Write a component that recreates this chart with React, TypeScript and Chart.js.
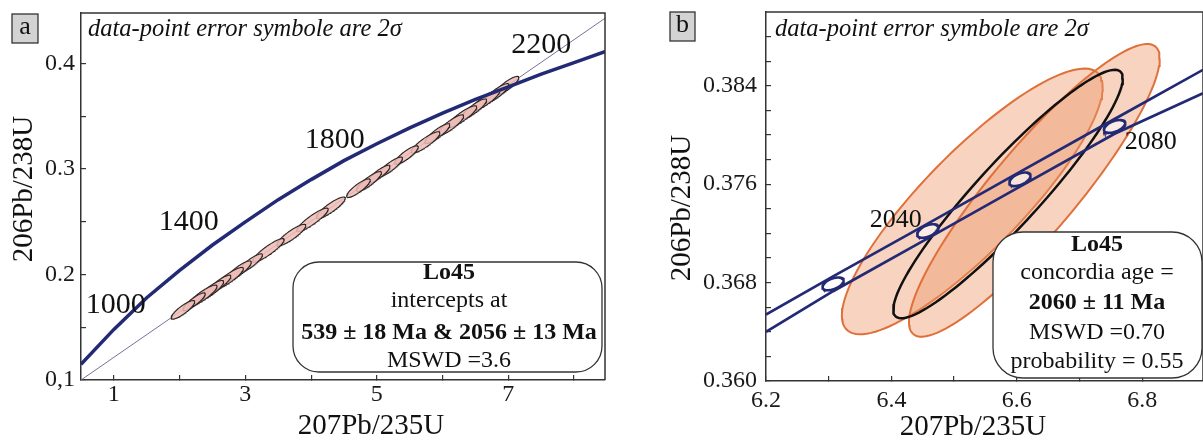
import React, { useEffect, useRef } from 'react';
import { Chart, registerables } from 'chart.js';
Chart.register(...registerables);

// ---------------- Panel a data ----------------
const aConcordiaX = [0.5, 1.0, 1.5, 2.0, 2.5, 3.0, 3.5, 4.0, 4.5, 5.0, 5.5, 6.0, 6.5, 7.0, 7.5, 8.0, 8.5];
const aConcordiaY = [0.115, 0.148, 0.178, 0.204, 0.228, 0.25, 0.271, 0.29, 0.308, 0.324, 0.339, 0.353, 0.366, 0.378, 0.39, 0.401, 0.412];
const aDiscordiaX = [0.5, 8.47];
const aDiscordiaY = [0.1, 0.443];
const aEllX = [2.05, 2.22, 2.35, 2.48, 2.6, 2.75, 2.9, 3.08, 3.35, 3.7, 4.02, 4.3, 4.72, 4.88, 5.03, 5.2, 5.45, 5.74, 5.92, 6.12, 6.3, 6.48, 6.65, 6.82, 6.98];
const aEllY = [0.1665, 0.1742, 0.1798, 0.185, 0.1906, 0.1965, 0.2035, 0.2108, 0.2229, 0.2374, 0.2518, 0.2633, 0.2819, 0.2882, 0.2952, 0.302, 0.3133, 0.3252, 0.3336, 0.3416, 0.3498, 0.3571, 0.3649, 0.3717, 0.3791];
const aEllSX = [0.18, 0.17, 0.22, 0.19, 0.18, 0.22, 0.19, 0.18, 0.24, 0.22, 0.24, 0.22, 0.18, 0.19, 0.17, 0.19, 0.18, 0.22, 0.19, 0.2, 0.22, 0.19, 0.22, 0.19, 0.18];
const aEllSY = [0.0088, 0.0084, 0.0102, 0.0094, 0.0088, 0.0102, 0.0094, 0.0088, 0.0112, 0.0102, 0.0112, 0.0102, 0.0088, 0.0094, 0.0084, 0.0094, 0.0088, 0.0102, 0.0094, 0.0098, 0.0102, 0.0094, 0.0102, 0.0094, 0.0088];
const aEllRho = [0.86, 0.87, 0.88, 0.86, 0.87, 0.88, 0.86, 0.87, 0.9, 0.88, 0.9, 0.88, 0.86, 0.87, 0.86, 0.87, 0.86, 0.88, 0.87, 0.87, 0.88, 0.87, 0.88, 0.87, 0.86];
const aAgeLabels = ['1000', '1400', '1800', '2200'];
const aAgeLabelX = [1.03, 2.14, 4.36, 7.5];
const aAgeLabelY = [0.171, 0.25, 0.327, 0.4175];
const aXTicks = [1, 2, 3, 4, 5, 6, 7, 8];
const aXTickLabels = ['1', '', '3', '', '5', '', '7', ''];
const aYTicks = [0.1, 0.15, 0.2, 0.25, 0.3, 0.35, 0.4];
const aYTickLabels = ['0,1', '', '0.2', '', '0.3', '', '0.4'];
const aBoxLines = ['Lo45', 'intercepts at', '539 ± 18 Ma & 2056 ± 13 Ma', 'MSWD =3.6'];
const aBoxBold = [true, false, true, false];

// ---------------- Panel b data ----------------
const bUpperX = [6.2, 6.307, 6.458, 6.605, 6.756, 6.897];
const bUpperY = [0.3654, 0.3685, 0.3728, 0.377, 0.3813, 0.3853];
const bLowerX = [6.2, 6.307, 6.458, 6.605, 6.756, 6.897];
const bLowerY = [0.364, 0.3673, 0.3716, 0.3758, 0.3801, 0.3834];
const bMarkerX = [6.307, 6.458, 6.605, 6.756];
const bMarkerY = [0.3679, 0.3722, 0.3764, 0.3807];
const bMarkerSX = [0.017, 0.017, 0.017, 0.017];
const bMarkerSY = [0.00052, 0.00055, 0.00055, 0.00052];
const bMarkerRho = [0.5, 0.5, 0.5, 0.5];
const bEllX = [6.529, 6.628];
const bEllY = [0.3746, 0.3755];
const bEllSX = [0.208, 0.2];
const bEllSY = [0.0108, 0.0119];
const bEllRho = [0.86, 0.9];
const bMeanX = 6.586;
const bMeanY = 0.3752;
const bMeanSX = 0.183;
const bMeanSY = 0.0101;
const bMeanRho = 0.93;
const bAgeLabels = ['2040', '2080'];
const bAgeLabelX = [6.407, 6.8135];
const bAgeLabelY = [0.3731, 0.3794];
const bXTicks = [6.2, 6.3, 6.4, 6.5, 6.6, 6.7, 6.8];
const bXTickLabels = ['6.2', '', '6.4', '', '6.6', '', '6.8'];
const bYTicks = [0.36, 0.362, 0.364, 0.366, 0.368, 0.37, 0.372, 0.374, 0.376, 0.378, 0.38, 0.382, 0.384, 0.386, 0.388];
const bYTickLabels = ['0.360', '', '', '', '0.368', '', '', '', '0.376', '', '', '', '0.384', '', ''];
const bBoxLines = ['Lo45', 'concordia age =', '2060 ± 11 Ma', 'MSWD =0.70', 'probability = 0.55'];
const bBoxBold = [true, false, true, false, false];

const NOTE = 'data-point error symbole are 2\u03c3';
const XTITLE = '207Pb/235U';
const YTITLE = '206Pb/238U';
const SERIF = '"Liberation Serif", "Times New Roman", serif';
const NAVY = '#232a75';

function ellipsePts(cx: number, cy: number, sx: number, sy: number, rho: number, n = 120) {
  const pts: { x: number; y: number }[] = [];
  const k = Math.sqrt(1 - rho * rho);
  for (let i = 0; i <= n; i++) {
    const t = (i / n) * 2 * Math.PI;
    pts.push({ x: cx + sx * Math.cos(t), y: cy + sy * (rho * Math.cos(t) + k * Math.sin(t)) });
  }
  return pts;
}

function zip(xs: number[], ys: number[]) {
  return xs.map((x, i) => ({ x, y: ys[i] }));
}

function roundBox(ctx: CanvasRenderingContext2D, x: number, y: number, w: number, h: number, r: number) {
  ctx.beginPath();
  ctx.moveTo(x + r, y);
  ctx.lineTo(x + w - r, y);
  ctx.arcTo(x + w, y, x + w, y + r, r);
  ctx.lineTo(x + w, y + h - r);
  ctx.arcTo(x + w, y + h, x + w - r, y + h, r);
  ctx.lineTo(x + r, y + h);
  ctx.arcTo(x, y + h, x, y + h - r, r);
  ctx.lineTo(x, y + r);
  ctx.arcTo(x, y, x + r, y, r);
  ctx.closePath();
}

interface Deco {
  letter: string;
  letterBox: [number, number, number, number];
  noteX: number;
  yTitle: [number, number];
  xTitle: [number, number];
  box: [number, number, number, number, number];
  boxLines: string[];
  boxBold: boolean[];
  boxLineY: number[];
  boxCx: number;
  ageLabels: string[];
  ageX: number[];
  ageY: number[];
  ageFont: number;
}

function makeDeco(d: Deco) {
  return {
    id: 'deco' + d.letter,
    afterDatasetsDraw(chart: any) {
      const ctx: CanvasRenderingContext2D = chart.ctx;
      const a = chart.chartArea;
      const xs = chart.scales.x;
      const ys = chart.scales.y;
      ctx.save();
      // frame
      ctx.strokeStyle = '#333';
      ctx.lineWidth = 1.5;
      ctx.beginPath();
      ctx.moveTo(a.left, a.top);
      ctx.lineTo(a.right, a.top);
      ctx.lineTo(a.right, a.bottom);
      ctx.stroke();
      // age labels
      ctx.fillStyle = '#111';
      ctx.font = `${d.ageFont}px ${SERIF}`;
      ctx.textAlign = 'center';
      ctx.textBaseline = 'middle';
      d.ageLabels.forEach((t, i) => {
        ctx.fillText(t, xs.getPixelForValue(d.ageX[i]), ys.getPixelForValue(d.ageY[i]));
      });
      // result box
      const [bx, by, bw, bh, br] = d.box;
      roundBox(ctx, bx, by, bw, bh, br);
      ctx.fillStyle = '#fff';
      ctx.fill();
      ctx.strokeStyle = '#333';
      ctx.lineWidth = 1.3;
      ctx.stroke();
      ctx.fillStyle = '#111';
      d.boxLines.forEach((t, i) => {
        ctx.font = `${d.boxBold[i] ? 'bold ' : ''}24px ${SERIF}`;
        ctx.fillText(t, d.boxCx, d.boxLineY[i]);
      });
      // note
      ctx.font = `italic 24.5px ${SERIF}`;
      ctx.textAlign = 'left';
      ctx.textBaseline = 'alphabetic';
      ctx.fillText(NOTE, d.noteX, 36);
      // letter box
      const [lx, ly, lw, lh] = d.letterBox;
      ctx.fillStyle = '#d3d3d3';
      ctx.fillRect(lx, ly, lw, lh);
      ctx.strokeStyle = '#333';
      ctx.lineWidth = 1.3;
      ctx.strokeRect(lx, ly, lw, lh);
      ctx.fillStyle = '#111';
      ctx.font = `26px ${SERIF}`;
      ctx.textAlign = 'center';
      ctx.textBaseline = 'middle';
      ctx.fillText(d.letter, lx + lw / 2, ly + lh / 2 - 1);
      // axis titles
      ctx.font = `29px ${SERIF}`;
      ctx.fillText(XTITLE, d.xTitle[0], d.xTitle[1]);
      ctx.translate(d.yTitle[0], d.yTitle[1]);
      ctx.rotate(-Math.PI / 2);
      ctx.fillText(YTITLE, 0, 0);
      ctx.restore();
    },
  };
}

function lineDs(data: any[], color: string, width: number, order: number, fillColor?: string) {
  return {
    type: 'line',
    data,
    borderColor: color,
    borderWidth: width,
    backgroundColor: fillColor || 'transparent',
    fill: fillColor ? 'shape' : false,
    pointRadius: 0,
    pointHoverRadius: 0,
    tension: 0,
    order,
  };
}

function scales(min: number, max: number, ymin: number, ymax: number, xt: number[], xl: string[], yt: number[], yl: string[], yw: number, xh: number, ypad: number, xpad: number) {
  const grid = { drawOnChartArea: false, drawTicks: true, tickLength: -5, color: '#333', lineWidth: 1.2 };
  const border = { display: true, color: '#333', width: 1.5 };
  const font = { family: SERIF, size: 24 };
  const noPad = (s: any) => {
    s.paddingTop = 0;
    s.paddingBottom = 0;
    s.paddingLeft = 0;
    s.paddingRight = 0;
  };
  return {
    x: {
      type: 'linear',
      min,
      max,
      grid,
      border,
      afterBuildTicks: (s: any) => { s.ticks = xt.map((v) => ({ value: v })); },
      afterFit: (s: any) => { s.height = xh; noPad(s); },
      ticks: { autoSkip: false, maxRotation: 0, color: '#1a1a1a', font, padding: xpad, callback: (_v: any, i: number) => xl[i] },
    },
    y: {
      type: 'linear',
      min: ymin,
      max: ymax,
      grid,
      border,
      afterBuildTicks: (s: any) => { s.ticks = yt.map((v) => ({ value: v })); },
      afterFit: (s: any) => { s.width = yw; noPad(s); },
      ticks: { autoSkip: false, color: '#1a1a1a', font, padding: ypad, callback: (_v: any, i: number) => yl[i] },
    },
  };
}

function configA(): any {
  const datasets: any[] = [];
  datasets.push(lineDs(zip(aDiscordiaX, aDiscordiaY), '#70749c', 1, 5));
  aEllX.forEach((x, i) => {
    datasets.push(lineDs(ellipsePts(x, aEllY[i], aEllSX[i], aEllSY[i], aEllRho[i]), '#2e2626', 1.1, 3, 'rgba(238,188,182,0.85)'));
  });
  datasets.push(lineDs(zip(aConcordiaX, aConcordiaY), NAVY, 3.5, 1));
  return {
    type: 'line',
    data: { datasets },
    options: {
      animation: false,
      responsive: false,
      devicePixelRatio: 1,
      layout: { padding: { top: 13, right: 20, bottom: 0, left: 0 } },
      plugins: { legend: { display: false }, tooltip: { enabled: false } },
      events: [],
      scales: scales(0.5, 8.47, 0.1, 0.448, aXTicks, aXTickLabels, aYTicks, aYTickLabels, 81, 65, 11, 5),
    },
    plugins: [makeDeco({
      letter: 'a',
      letterBox: [12, 14, 26, 29],
      noteX: 88,
      yTitle: [24, 189],
      xTitle: [371, 426],
      box: [293, 262, 309, 110, 26],
      boxLines: aBoxLines,
      boxBold: aBoxBold,
      boxLineY: [273, 301, 333, 361],
      boxCx: 449,
      ageLabels: aAgeLabels,
      ageX: aAgeLabelX,
      ageY: aAgeLabelY,
      ageFont: 30,
    })],
  };
}

function configB(): any {
  const datasets: any[] = [];
  bEllX.forEach((x, i) => {
    datasets.push(lineDs(ellipsePts(x, bEllY[i], bEllSX[i], bEllSY[i], bEllRho[i]), '#e0703a', 2, 10 - i, 'rgba(236,150,105,0.42)'));
  });
  datasets.push(lineDs(ellipsePts(bMeanX, bMeanY, bMeanSX, bMeanSY, bMeanRho), '#111', 2.5, 6));
  datasets.push(lineDs(zip(bUpperX, bUpperY), NAVY, 2.7, 4));
  datasets.push(lineDs(zip(bLowerX, bLowerY), NAVY, 2.7, 4));
  bMarkerX.forEach((x, i) => {
    datasets.push(lineDs(ellipsePts(x, bMarkerY[i], bMarkerSX[i], bMarkerSY[i], bMarkerRho[i]), NAVY, 2.5, 2, 'rgba(255,255,255,0.6)'));
  });
  return {
    type: 'line',
    data: { datasets },
    options: {
      animation: false,
      responsive: false,
      devicePixelRatio: 1,
      layout: { padding: { top: 12, right: 0, bottom: 0, left: 0 } },
      plugins: { legend: { display: false }, tooltip: { enabled: false } },
      events: [],
      scales: scales(6.2, 6.897, 0.36, 0.39, bXTicks, bXTickLabels, bYTicks, bYTickLabels, 126, 64, 14, 10),
    },
    plugins: [makeDeco({
      letter: 'b',
      letterBox: [30, 12, 25, 29],
      noteX: 135,
      yTitle: [42, 208],
      xTitle: [333, 427],
      box: [353, 232, 209, 146, 30],
      boxLines: bBoxLines,
      boxBold: bBoxBold,
      boxLineY: [245, 273, 303, 333, 362],
      boxCx: 457,
      ageLabels: bAgeLabels,
      ageX: bAgeLabelX,
      ageY: bAgeLabelY,
      ageFont: 26,
    })],
  };
}

export default function App() {
  const refA = useRef<HTMLCanvasElement>(null);
  const refB = useRef<HTMLCanvasElement>(null);
  useEffect(() => {
    const a = new Chart(refA.current as HTMLCanvasElement, configA());
    const b = new Chart(refB.current as HTMLCanvasElement, configB());
    return () => {
      a.destroy();
      b.destroy();
    };
  }, []);
  return (
    <div style={{ position: 'absolute', left: 0, top: 0, width: 1203, height: 445, background: '#fff', overflow: 'hidden' }}>
      <canvas ref={refA} width={625} height={445} style={{ position: 'absolute', left: 0, top: 0, width: 625, height: 445 }} />
      <canvas ref={refB} width={563} height={445} style={{ position: 'absolute', left: 640, top: 0, width: 563, height: 445 }} />
    </div>
  );
}
